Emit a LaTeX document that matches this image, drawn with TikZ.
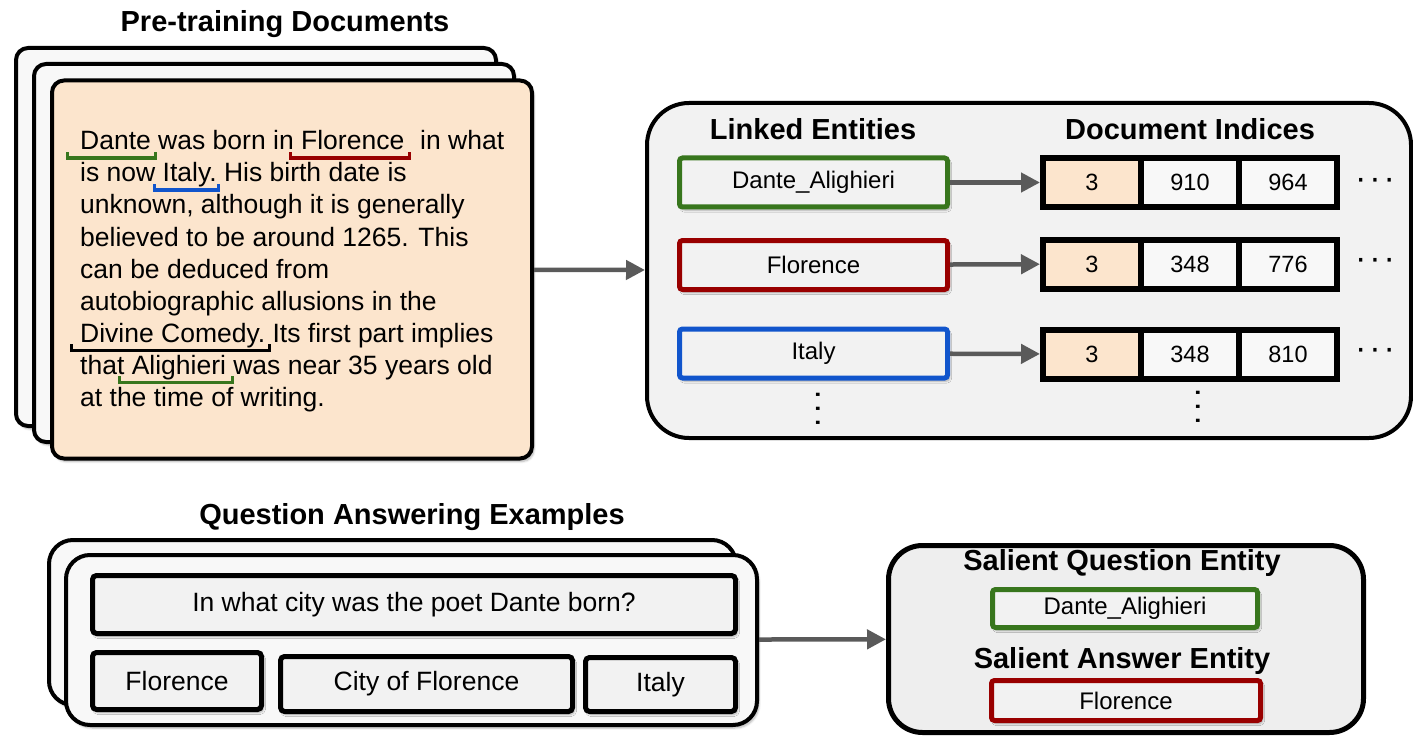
\documentclass[tikz,border=0pt]{standalone}
\usepackage{fontspec}
\setmainfont{Liberation Sans}
\usetikzlibrary{arrows.meta,shadows.blur}
\definecolor{egreen}{RGB}{56,118,29}
\definecolor{ered}{RGB}{153,0,0}
\definecolor{eblue}{RGB}{17,85,204}
\definecolor{peach}{RGB}{252,229,205}
\definecolor{panelgray}{RGB}{242,242,242}
\definecolor{salgray}{RGB}{238,238,238}
\definecolor{cardwhite}{RGB}{248,248,248}
\definecolor{arrowgray}{RGB}{90,90,90}
% bracket-style underline: color, left extension, right extension, text
\newcommand\ubr[4]{%
  \setbox0=\hbox{#4}%
  \leavevmode\rlap{\kern-#2\textcolor{#1}{%
    \vrule width 3pt height -2pt depth 10pt%
    \vrule width \dimexpr\wd0+#2+#3-6pt\relax height -6.5pt depth 10pt%
    \vrule width 3pt height -2pt depth 10pt}}%
  \box0\relax}
% ellipsis made of middle dots
\newcommand\hdotsrow{·\kern3pt·\kern3pt·}
\begin{document}
\begin{tikzpicture}[x=1pt,y=-1pt,
  shad/.style={blur shadow={shadow xshift=2pt,shadow yshift=-3pt,shadow blur steps=6,shadow opacity=30}},
  card/.style={draw=black,line width=4pt,rounded corners=12pt,inner sep=0pt,
    minimum width=480pt,minimum height=378pt,shad},
  qacard/.style={draw=black,line width=4pt,rounded corners=24pt,inner sep=0pt,shad},
  doctext/.style={anchor=base west,inner sep=0pt,font=\fontsize{26.5}{32}\selectfont},
  title/.style={anchor=base,inner sep=0pt,font=\fontsize{29}{34}\selectfont\bfseries},
  panel/.style={draw=black,line width=4pt,fill=panelgray,inner sep=0pt},
  ent/.style={draw,line width=5pt,fill=panelgray,rounded corners=3pt,inner sep=0pt,
    minimum width=268pt,minimum height=49pt,font=\fontsize{24}{28}\selectfont,shad},
  cell/.style={draw=black,line width=6pt,fill=cardwhite,inner sep=0pt,
    minimum width=98pt,minimum height=49pt,font=\fontsize{23.5}{28}\selectfont},
  qbox/.style={draw=black,line width=5pt,fill=panelgray,rounded corners=4pt,inner sep=0pt,
    font=\fontsize{26.5}{30}\selectfont,shad},
  sbox/.style={draw,line width=5pt,fill=panelgray,rounded corners=3pt,inner sep=0pt,
    font=\fontsize{24}{28}\selectfont,shad},
  conn/.style={draw=arrowgray,line width=4.5pt,-{Triangle[length=19pt,width=19pt]}},
  dots/.style={inner sep=0pt,font=\fontsize{34}{36}\selectfont}
]
\useasboundingbox (0,0) rectangle (1413,738);

% ---------- pre-training documents ----------
\node[title] (tdoc) at (285,32) {Pre-training Documents};
\node[card,fill=cardwhite] (doc3) at (256,237) {};
\node[card,fill=cardwhite] (doc2) at (274,253) {};
\node[card,fill=peach] (doc1) at (292,269.5) {};

\node[doctext] (l1) at (80,150) {\ubr{egreen}{14pt}{6pt}{Dante} was born in \ubr{ered}{12pt}{7pt}{Florence}\hspace{16pt}in what};
\node[doctext] (l2) at (80,182) {is now \ubr{eblue}{10pt}{3pt}{Italy.} His birth date is};
\node[doctext] (l3) at (80,214) {unknown, although it is generally};
\node[doctext] (l4) at (80,246) {believed to be around 1265. This};
\node[doctext] (l5) at (80,278) {can be deduced from};
\node[doctext] (l6) at (80,310) {autobiographic allusions in the};
\node[doctext] (l7) at (80,342) {\ubr{black}{10pt}{6pt}{Divine Comedy.} Its first part implies};
\node[doctext] (l8) at (80,374) {that \ubr{egreen}{14pt}{8pt}{Alighieri} was near 35 years old};
\node[doctext] (l9) at (80,406) {at the time of writing.};

% ---------- linked entities panel ----------
\node[panel,rounded corners=42pt,minimum width=764pt,minimum height=335pt] (ep) at (1029,270.5) {};
\node[title] (tle) at (813,140) {Linked Entities};
\node[title] (tdi) at (1190,140) {Document Indices};

\node[ent,draw=egreen] (e1) at (813.5,182.5) {Dante\_Alighieri};
\node[ent,draw=ered]   (e2) at (813.5,265)   {Florence};
\node[ent,draw=eblue]  (e3) at (813.5,353.5) {Italy};

\node[cell,fill=peach] (c11) at (1092,182.5) {3};
\node[cell] (c12) at (1190,182.5) {910};
\node[cell] (c13) at (1288,182.5) {964};
\node[cell,fill=peach] (c21) at (1092,264) {3};
\node[cell] (c22) at (1190,264) {348};
\node[cell] (c23) at (1288,264) {776};
\node[cell,fill=peach] (c31) at (1092,354) {3};
\node[cell] (c32) at (1190,354) {348};
\node[cell] (c33) at (1288,354) {810};

\node[dots] (d1) at (1375,184) {\hdotsrow};
\node[dots] (d2) at (1375,264) {\hdotsrow};
\node[dots] (d3) at (1375,354) {\hdotsrow};
\node[dots,rotate=90] (vd1) at (822,409) {\hdotsrow};
\node[dots,rotate=90] (vd2) at (1202,407) {\hdotsrow};

\draw[conn] (e1) -- (c11);
\draw[conn] (e2) -- (c21);
\draw[conn] (e3) -- (c31);
\draw[conn] (doc1) -- (ep);

% ---------- question answering examples ----------
\node[title] (tqa) at (412,524) {Question Answering Examples};
\node[qacard,fill=cardwhite,minimum width=687pt,minimum height=165pt] (qa2) at (392.5,622.5) {};
\node[qacard,fill=cardwhite,minimum width=691pt,minimum height=170pt] (qa1) at (411.5,640) {};
\node[qbox,minimum width=643pt,minimum height=58pt] (q) at (414,604.5) {In what city was the poet Dante born?};
\node[qbox,minimum width=169pt,minimum height=57pt] (a1) at (177,681) {Florence};
\node[qbox,minimum width=292pt,minimum height=55pt] (a2) at (426.5,684) {City of Florence};
\node[qbox,minimum width=150pt,minimum height=54pt] (a3) at (660.5,684.5) {Italy};

% ---------- salient entities ----------
\node[panel,line width=5pt,fill=salgray,rounded corners=34pt,minimum width=475pt,minimum height=187pt] (sp) at (1126,639) {};
\node[title] (tsq) at (1122,570) {Salient Question Entity};
\node[sbox,draw=egreen,minimum width=265pt,minimum height=38pt] (s1) at (1125,608.5) {Dante\_Alighieri};
\node[title] (tsa) at (1122,668) {Salient Answer Entity};
\node[sbox,draw=ered,minimum width=269pt,minimum height=40pt] (s2) at (1126,700.5) {Florence};

\draw[conn] (qa1) -- (sp);
\end{tikzpicture}
\end{document}
